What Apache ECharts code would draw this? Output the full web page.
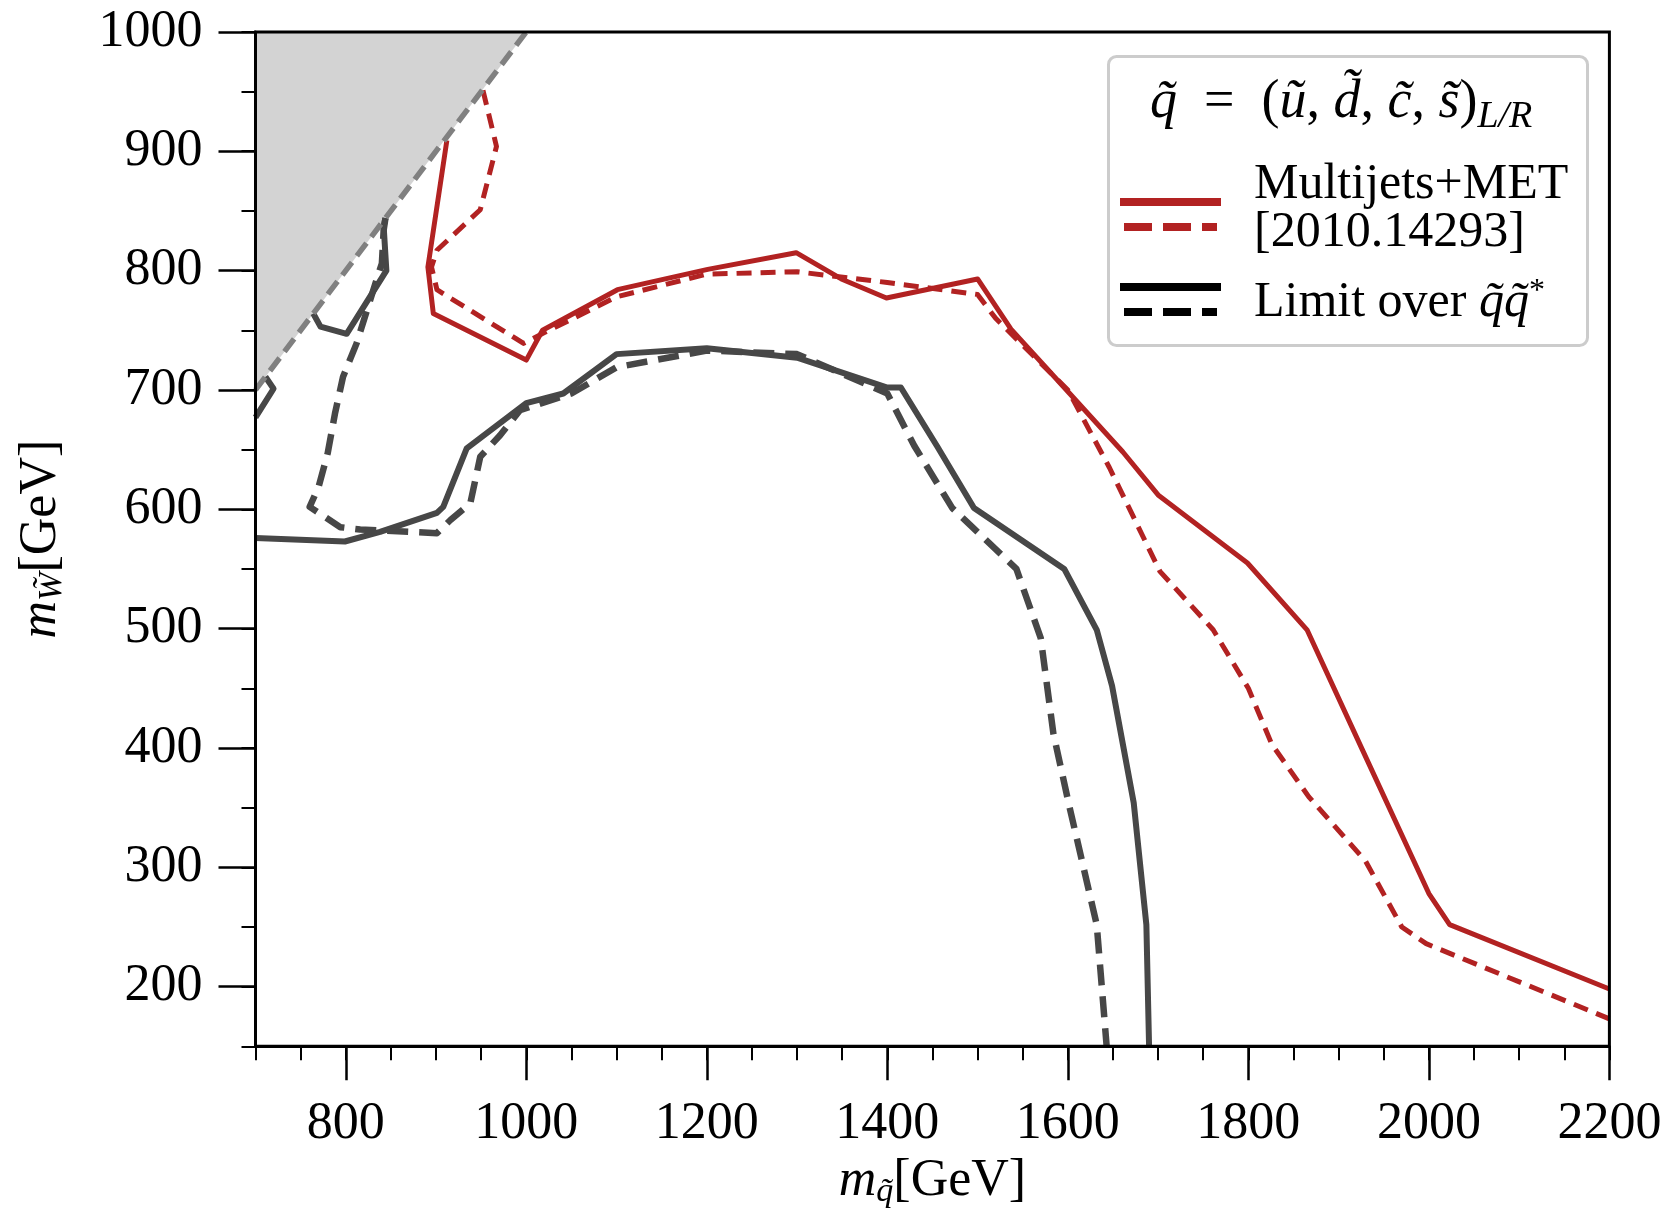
<!DOCTYPE html>
<html>
<head>
<meta charset="utf-8">
<script src="https://cdn.jsdelivr.net/npm/echarts@6/dist/echarts.min.js"></script>
<style>html,body{margin:0;padding:0;background:#fff}#c{width:1669px;height:1215px}</style>
</head>
<body>
<div id="c"></div>
<script>
// ---- data (m_squark [GeV], m_wino [GeV]) ----
const xTicks = [800, 1000, 1200, 1400, 1600, 1800, 2000, 2200];
const yTicks = [200, 300, 400, 500, 600, 700, 800, 900, 1000];

const kinematicEdge = [[700, 700], [1000, 1000]];

const multijetsSolid = [[912,909],[891,803],[897,764],[1000,725],[1018,750],[1101,784],[1201,801],[1299,815],[1349,793],[1399,777],[1500,793],[1537,751],[1602,697],[1661,648],[1700,612],[1799,555],[1865,499],[1926,399],[2000,278],[2023,252],[2200,198]];
const multijetsDashed = [[952,951],[967,904],[949,851],[901,817],[895,803],[901,784],[997,739],[1020,748],[1100,778],[1200,797],[1300,799],[1400,790],[1500,780],[1520,760],[1600,700],[1646,635],[1702,548],[1761,499],[1800,450],[1826,403],[1867,359],[1930,305],[1970,250],[1997,236],[2200,173]];

const limitSolidA = [[700,677],[720,701],[711,711]];
const limitSolidB = [[764,764],[772,753],[801,747],[845,800],[842,837],[844,844]];
const limitSolidC = [[700,576],[799,573],[838,581],[901,597],[908,602],[934,651],[1000,689],[1041,697],[1100,730],[1200,735],[1300,727],[1400,702],[1415,702],[1455,653],[1496,601],[1596,550],[1632,499],[1649,452],[1673,354],[1687,252],[1690,150]];
const limitDashed = [[844,844],[842,834],[840,806],[834,792],[812,739],[797,711],[788,680],[780,647],[770,619],[760,602],[794,585],[816,583],[901,580],[916,591],[938,605],[949,644],[971,662],[993,683],[1050,697],[1100,719],[1200,733],[1300,730],[1400,697],[1430,653],[1472,601],[1543,550],[1570,492],[1584,412],[1602,350],[1632,252],[1643,150]];

const RED = '#b22222';
const GRAY = '#474747';
const FONT = 'Liberation Serif';

function lineSeries(data, color, width, dash, z) {
  return {
    type: 'line', data: data, showSymbol: false, symbol: 'none', clip: true,
    xAxisIndex: 0, yAxisIndex: 0, z: z || 3, silent: true,
    lineStyle: { color: color, width: width, type: dash ? dash : 'solid', cap: 'butt', join: 'round' }
  };
}

const chart = echarts.init(document.getElementById('c'), null, { renderer: 'canvas' });
const gridL = 255.5, gridR = 59.6, gridT = 31.9, gridB = 168.7;

const option = {
  animation: false,
  backgroundColor: '#fff',
  grid: { left: gridL, right: gridR, top: gridT, bottom: gridB, show: true, borderColor: '#000', borderWidth: 3, backgroundColor: 'transparent', z: 10, containLabel: false, outerBoundsMode: 'none' },
  xAxis: [
    {
      type: 'value', min: 700, max: 2200, position: 'bottom',
      axisLine: { show: true, lineStyle: { color: '#000', width: 3 } },
      axisTick: { show: true, customValues: xTicks, length: 34, inside: false, lineStyle: { color: '#000', width: 2.5 } },
      axisLabel: { show: true, customValues: xTicks, margin: 52, color: '#000', fontFamily: FONT, fontSize: 52, formatter: v => String(v) },
      splitLine: { show: false },
      name: '{m|m}{s|q̃}{u|[GeV]}', nameLocation: 'middle', nameGap: 104,
      nameTextStyle: { color: '#000', fontFamily: FONT, rich: {
        m: { fontSize: 52, fontStyle: 'italic', fontFamily: FONT, color: '#000' },
        s: { fontSize: 34, fontStyle: 'italic', fontFamily: FONT, color: '#000', padding: [22, 0, 0, 0] },
        u: { fontSize: 52, fontFamily: FONT, color: '#000' } } }
    },
    {
      type: 'value', min: 700, max: 2200, interval: 50, position: 'bottom', gridIndex: 0,
      axisLine: { show: false }, axisLabel: { show: false }, splitLine: { show: false },
      axisTick: { show: true, length: 14, inside: false, lineStyle: { color: '#000', width: 2 } }
    }
  ],
  yAxis: [
    {
      type: 'value', min: 150, max: 1000, position: 'left',
      axisLine: { show: true, lineStyle: { color: '#000', width: 3 } },
      axisTick: { show: true, customValues: yTicks, length: 37, inside: false, lineStyle: { color: '#000', width: 2.5 } },
      axisLabel: { show: true, customValues: yTicks, margin: 53, color: '#000', fontFamily: FONT, fontSize: 52, formatter: v => String(v) },
      splitLine: { show: false },
      name: '{m|m}{s|W̃}{u|[GeV]}', nameLocation: 'middle', nameGap: 186, nameRotate: 90,
      nameTextStyle: { color: '#000', fontFamily: FONT, rich: {
        m: { fontSize: 52, fontStyle: 'italic', fontFamily: FONT, color: '#000' },
        s: { fontSize: 34, fontStyle: 'italic', fontFamily: FONT, color: '#000', padding: [22, 0, 0, 0] },
        u: { fontSize: 52, fontFamily: FONT, color: '#000' } } }
    },
    {
      type: 'value', min: 150, max: 1000, interval: 50, position: 'left', gridIndex: 0,
      axisLine: { show: false }, axisLabel: { show: false }, splitLine: { show: false },
      axisTick: { show: true, length: 14, inside: false, lineStyle: { color: '#000', width: 2 } }
    }
  ],
  series: [
    {
      type: 'line', data: kinematicEdge, showSymbol: false, symbol: 'none', z: 2, silent: true,
      lineStyle: { width: 0 },
      areaStyle: { color: '#d3d3d3', opacity: 1, origin: 'end' }
    },
    lineSeries(multijetsSolid, RED, 5, null, 3),
    lineSeries(multijetsDashed, RED, 5, [15, 9], 3),
    lineSeries(limitSolidA, GRAY, 6, null, 3),
    lineSeries(limitSolidB, GRAY, 6, null, 3),
    lineSeries(limitSolidC, GRAY, 6, null, 3),
    lineSeries(limitDashed, GRAY, 6.5, [21, 11], 3),
    lineSeries(kinematicEdge, '#808080', 5.5, [16, 8], 4)
  ],
  graphic: [
    { type: 'rect', left: 1107, top: 55, shape: { width: 479, height: 289, r: 8 }, style: { fill: 'rgba(255,255,255,0.9)', stroke: '#cccccc', lineWidth: 3 }, z: 50 },
    { type: 'text', left: 1150, top: 76, z: 51, style: {
        text: '{i|q̃}{r|  =  (}{i|ũ}{r|, }{i|d̃}{r|, }{i|c̃}{r|, }{i|s̃}{r|)}{sub|L/R}',
        rich: {
          i: { fontFamily: FONT, fontStyle: 'italic', fontSize: 54, fill: '#000' },
          r: { fontFamily: FONT, fontSize: 54, fill: '#000' },
          sub: { fontFamily: FONT, fontStyle: 'italic', fontSize: 38, fill: '#000', padding: [28, 0, 0, 0] }
        } } },
    { type: 'line', z: 51, shape: { x1: 1120, y1: 202, x2: 1221, y2: 202 }, style: { stroke: RED, lineWidth: 8 } },
    { type: 'line', z: 51, shape: { x1: 1124, y1: 227, x2: 1217, y2: 227 }, style: { stroke: RED, lineWidth: 8, lineDash: [28, 11] } },
    { type: 'text', left: 1254, top: 160, z: 51, style: { text: 'Multijets+MET', fontFamily: FONT, fontSize: 50, fill: '#000' } },
    { type: 'text', left: 1254, top: 208, z: 51, style: { text: '[2010.14293]', fontFamily: FONT, fontSize: 50, fill: '#000' } },
    { type: 'line', z: 51, shape: { x1: 1120, y1: 287, x2: 1221, y2: 287 }, style: { stroke: '#000', lineWidth: 8 } },
    { type: 'line', z: 51, shape: { x1: 1124, y1: 312, x2: 1217, y2: 312 }, style: { stroke: '#000', lineWidth: 8, lineDash: [28, 11] } },
    { type: 'text', left: 1254, top: 276, z: 51, style: { text: 'Limit over {i|q̃q̃}{s|*}', fontFamily: FONT, fontSize: 50, fill: '#000',
        rich: { i: { fontFamily: FONT, fontStyle: 'italic', fontSize: 50, fill: '#000' }, s: { fontFamily: FONT, fontSize: 32, fill: '#000', padding: [0, 0, 22, 0] } } } }
  ]
};
chart.setOption(option);
</script>
</body>
</html>
